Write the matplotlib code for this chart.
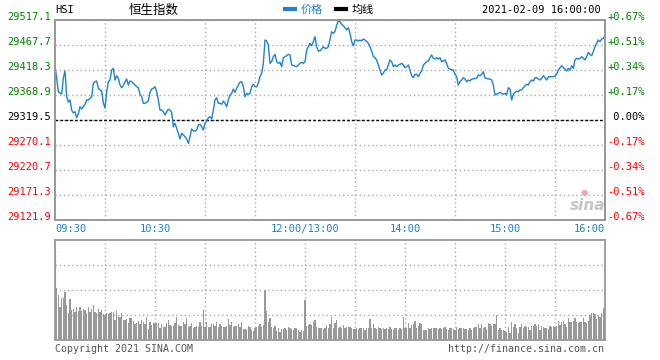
import numpy as np
import matplotlib.pyplot as plt
from matplotlib.lines import Line2D

plt.rcParams['font.family'] = 'DejaVu Sans Mono'

# HSI intraday, one value per minute from 09:30 (12:00 and 13:00 share one slot)
prev_close = 29319.5
price = [
    29424.8, 29402.5, 29375.4, 29372.8, 29370.9, 29402.5, 29416.3, 29365.5, 29355.0, 29359.0,
    29339.2, 29333.3, 29335.9, 29324.0, 29331.3, 29345.8, 29341.2, 29345.8, 29350.5, 29359.0,
    29359.0, 29362.4, 29365.5, 29392.0, 29395.2, 29396.5, 29382.1, 29378.8, 29376.8, 29353.1,
    29343.2, 29374.8, 29395.2, 29398.5, 29418.3, 29421.6, 29398.5, 29407.0, 29401.9, 29388.6,
    29383.3, 29387.3, 29395.2, 29400.5, 29388.6, 29396.5, 29395.2, 29392.0, 29388.6, 29385.3,
    29383.3, 29370.3, 29365.5, 29352.5, 29352.5, 29354.5, 29357.0, 29374.2, 29380.7, 29382.1,
    29385.3, 29375.4, 29359.0, 29339.2, 29339.2, 29335.9, 29329.4, 29335.9, 29340.6, 29339.2,
    29334.7, 29306.2, 29313.0, 29303.1, 29293.2, 29281.9, 29293.2, 29289.8, 29286.5, 29281.9,
    29273.4, 29286.5, 29301.7, 29297.7, 29297.7, 29299.7, 29309.6, 29311.0, 29306.2, 29299.7,
    29313.0, 29317.5, 29324.0, 29326.0, 29321.5, 29339.2, 29359.0, 29363.5, 29352.5, 29352.5,
    29350.5, 29357.0, 29352.5, 29345.8, 29359.0, 29368.9, 29372.2, 29380.7, 29374.2, 29382.1,
    29388.6, 29394.0, 29395.2, 29385.3, 29365.5, 29372.2, 29370.3, 29372.2, 29385.3, 29390.0,
    29385.3, 29385.3, 29392.0, 29405.0, 29411.8, 29431.5, 29477.6, 29475.6, 29467.7, 29431.5,
    29434.7, 29444.6, 29449.3, 29434.7, 29431.5, 29433.5, 29424.8, 29442.6, 29444.6, 29446.5,
    29449.3, 29447.9, 29428.2, 29426.8, 29426.2, 29424.8, 29428.2, 29431.5, 29433.5, 29431.5,
    29434.7, 29457.8, 29464.3, 29471.0, 29466.3, 29474.2, 29484.1, 29464.3, 29455.8, 29455.8,
    29459.8, 29464.3, 29461.2, 29461.2, 29464.3, 29479.5, 29494.0, 29490.8, 29494.0, 29507.2,
    29515.1, 29513.7, 29508.6, 29505.8, 29501.9, 29497.3, 29501.9, 29490.8, 29474.2, 29466.3,
    29477.6, 29477.6, 29475.6, 29477.6, 29475.6, 29479.5, 29477.6, 29474.2, 29471.0, 29464.3,
    29455.8, 29444.6, 29442.6, 29438.1, 29428.2, 29418.3, 29408.4, 29411.8, 29418.3, 29418.3,
    29428.2, 29438.1, 29434.7, 29424.8, 29428.2, 29424.8, 29428.2, 29429.5, 29431.5, 29428.2,
    29422.8, 29424.8, 29428.2, 29418.3, 29407.0, 29403.1, 29409.8, 29409.8, 29405.0, 29411.8,
    29416.3, 29428.2, 29431.5, 29434.7, 29436.1, 29442.6, 29447.9, 29441.4, 29440.0, 29442.6,
    29440.0, 29442.6, 29434.7, 29436.1, 29438.1, 29431.5, 29421.6, 29420.3, 29418.3, 29418.3,
    29409.8, 29405.0, 29388.6, 29395.2, 29398.5, 29403.1, 29400.5, 29395.2, 29398.5, 29396.5,
    29400.5, 29400.5, 29401.9, 29401.9, 29408.4, 29407.0, 29409.8, 29414.9, 29402.5, 29401.9,
    29400.5, 29400.5, 29398.5, 29388.6, 29368.9, 29370.3, 29372.2, 29374.2, 29372.2, 29370.3,
    29372.2, 29368.9, 29383.3, 29380.7, 29359.0, 29370.3, 29374.2, 29376.8, 29375.4, 29378.8,
    29378.8, 29383.3, 29387.3, 29390.0, 29388.6, 29395.2, 29398.5, 29396.5, 29403.1, 29403.1,
    29400.5, 29398.5, 29401.9, 29407.0, 29403.1, 29398.5, 29405.0, 29405.0, 29405.0, 29405.0,
    29406.4, 29409.8, 29418.3, 29422.8, 29426.8, 29422.8, 29420.3, 29416.3, 29421.6, 29418.3,
    29426.8, 29421.6, 29438.1, 29441.4, 29440.0, 29441.4, 29444.6, 29441.4, 29438.1, 29444.6,
    29453.3, 29449.3, 29446.5, 29454.4, 29464.3, 29471.0, 29477.6, 29474.2, 29479.5, 29480.9,
    29486.1,
]

# volume per minute, relative units (panel top = 100)
volume = [
    100, 52, 45, 33, 42, 42, 48, 35, 27, 41, 30, 31, 28, 33, 29, 33, 29, 31, 30, 27,
    33, 28, 31, 35, 28, 27, 31, 28, 30, 26,
    25, 27, 26, 27, 28, 28, 20, 29, 23, 23, 27, 20, 20, 21, 17, 22, 22, 19, 16, 17,
    19, 16, 20, 18, 16, 23, 11, 18, 15, 17,
    17, 17, 17, 12, 16, 13, 13, 17, 20, 15, 14, 14, 17, 23, 15, 14, 14, 18, 16, 22,
    13, 14, 17, 12, 13, 14, 13, 18, 14, 30,
    13, 18, 13, 13, 16, 16, 14, 18, 13, 16, 14, 13, 13, 14, 21, 15, 18, 13, 14, 14,
    16, 13, 18, 11, 11, 10, 14, 13, 10, 9,
    12, 13, 14, 16, 13, 15, 50, 29, 18, 22, 13, 12, 14, 9, 12, 8, 11, 11, 12, 10,
    13, 12, 11, 10, 12, 12, 10, 8, 10, 9,
    40, 14, 15, 16, 15, 18, 20, 13, 12, 12, 12, 11, 12, 15, 12, 16, 23, 12, 17, 20,
    12, 13, 12, 15, 12, 13, 13, 13, 12, 11,
    11, 12, 11, 12, 12, 12, 10, 12, 12, 21, 12, 16, 12, 11, 13, 12, 11, 12, 11, 12,
    11, 13, 11, 10, 12, 12, 10, 12, 11, 23,
    12, 12, 17, 12, 15, 16, 19, 12, 14, 17, 16, 10, 10, 10, 12, 11, 12, 12, 12, 12,
    11, 12, 11, 12, 13, 11, 10, 12, 12, 11,
    10, 13, 11, 12, 12, 12, 11, 11, 10, 12, 10, 12, 13, 13, 16, 12, 16, 12, 13, 11,
    17, 16, 14, 16, 16, 25, 10, 12, 10, 10,
    9, 8, 13, 7, 18, 13, 16, 12, 7, 13, 16, 12, 14, 13, 13, 10, 14, 14, 16, 14,
    16, 10, 14, 13, 12, 12, 11, 14, 13, 14,
    13, 14, 19, 15, 18, 19, 16, 13, 22, 18, 18, 19, 22, 18, 17, 18, 18, 22, 18, 17,
    19, 25, 27, 27, 26, 21, 25, 23, 27, 32, 29,
]

price_ticks = [29121.9, 29171.3, 29220.7, 29270.1, 29319.5, 29368.9, 29418.3, 29467.7, 29517.1]
pct_labels = ['-0.67%', '-0.51%', '-0.34%', '-0.17%', ' 0.00%', '+0.17%', '+0.34%', '+0.51%', '+0.67%']
time_ticks = [0, 60, 150, 210, 270, 330]
time_labels = ['09:30', '10:30', '12:00/13:00', '14:00', '15:00', '16:00']

cjk = ['Noto Sans CJK SC', 'DejaVu Sans']
blue = '#1e82d2'
green = '#008000'
red = '#ff0000'
edge = '#999999'
grid_kw = dict(color='#aaaaaa', lw=1, ls=(0, (1, 2)))
tick_colors = [red] * 4 + ['black'] + [green] * 4

fig = plt.figure(figsize=(6.6, 3.6), dpi=100)


def px(x, y):
    return x / 660, 1 - y / 360


ax = fig.add_axes([55 / 660, 140 / 360, 550 / 660, 200 / 360])
vax = fig.add_axes([55 / 660, 20 / 360, 550 / 660, 100 / 360])

minutes = np.arange(len(price))
line, = ax.plot(minutes, price, color=blue, lw=1, zorder=3)
ax.axhline(prev_close, color='black', lw=1, ls=(0, (2, 1.5)), zorder=2)

ax.set_xlim(0, 330)
ax.set_ylim(price_ticks[0], price_ticks[-1])
ax.set_yticks(price_ticks)
ax.set_yticklabels([f'{v:.1f}' for v in price_ticks])
ax.set_xticks(time_ticks)
ax.set_xticklabels(time_labels)
ax.set_xticks(np.arange(0, 331, 30), minor=True)
ax.xaxis.grid(True, which='minor', **grid_kw)
ax.yaxis.grid(True, which='major', **grid_kw)
ax.tick_params(which='both', length=0, labelsize=7.5)
ax.tick_params(axis='y', pad=3)
ax.tick_params(axis='x', pad=3, labelcolor=blue)
for lbl, c in zip(ax.get_yticklabels(), tick_colors):
    lbl.set_color(c)
    lbl.set_va('baseline')
xl = ax.get_xticklabels()
xl[0].set_ha('left')
xl[-1].set_ha('right')

ax2 = ax.twinx()
ax2.set_ylim(price_ticks[0], price_ticks[-1])
ax2.set_yticks(price_ticks)
ax2.set_yticklabels(pct_labels)
ax2.tick_params(length=0, labelsize=7.5, pad=1.5)
for lbl, c in zip(ax2.get_yticklabels(), tick_colors):
    lbl.set_color(c)
    lbl.set_va('baseline')

vax.bar(minutes, volume, width=0.7, color='#999999', linewidth=0)
vax.set_xlim(0, 330)
vax.set_ylim(0, 100)
vax.set_yticks([25, 50, 75])
vax.set_xticks(np.arange(0, 331, 30))
vax.grid(True, **grid_kw)
vax.set_axisbelow(True)
vax.tick_params(length=0, labelleft=False, labelbottom=False)

for a in (ax, ax2, vax):
    for s in a.spines.values():
        s.set_color(edge)
        s.set_linewidth(1.3)

# header
fig.text(*px(55, 10), 'HSI', fontsize=7.5, va='center', ha='left')
fig.text(*px(154, 10), '恒生指数', family=cjk, fontsize=9, ha='center', va='center')
fig.text(*px(601, 10), '2021-02-09 16:00:00', fontsize=7.5, ha='right', va='center')
leg = fig.legend(handles=[Line2D([], [], color=blue, lw=3), Line2D([], [], color='black', lw=3)],
                 labels=['价格', '均线'], loc='center', bbox_to_anchor=px(329, 10), ncol=2,
                 frameon=False, prop={'family': cjk, 'size': 8}, handlelength=0.9,
                 handletextpad=0.5, columnspacing=1.2, borderpad=0, borderaxespad=0)
leg.get_texts()[0].set_color(blue)

# watermark
fig.text(*px(584, 193), '●', family='DejaVu Sans', fontsize=6, color='#f2a6a6', ha='center', va='center')
fig.text(*px(588, 206), 'sina', family='DejaVu Sans', fontsize=11, style='italic', weight='bold',
         color='#c4c4c4', ha='center', va='center')

# footer
fig.text(*px(55, 349), 'Copyright 2021 SINA.COM', fontsize=7.2, color='#555555', va='center')
fig.text(*px(604, 349), 'http://finance.sina.com.cn', fontsize=7.2, color='#555555', ha='right', va='center')

fig.savefig('out.png', dpi=100)
